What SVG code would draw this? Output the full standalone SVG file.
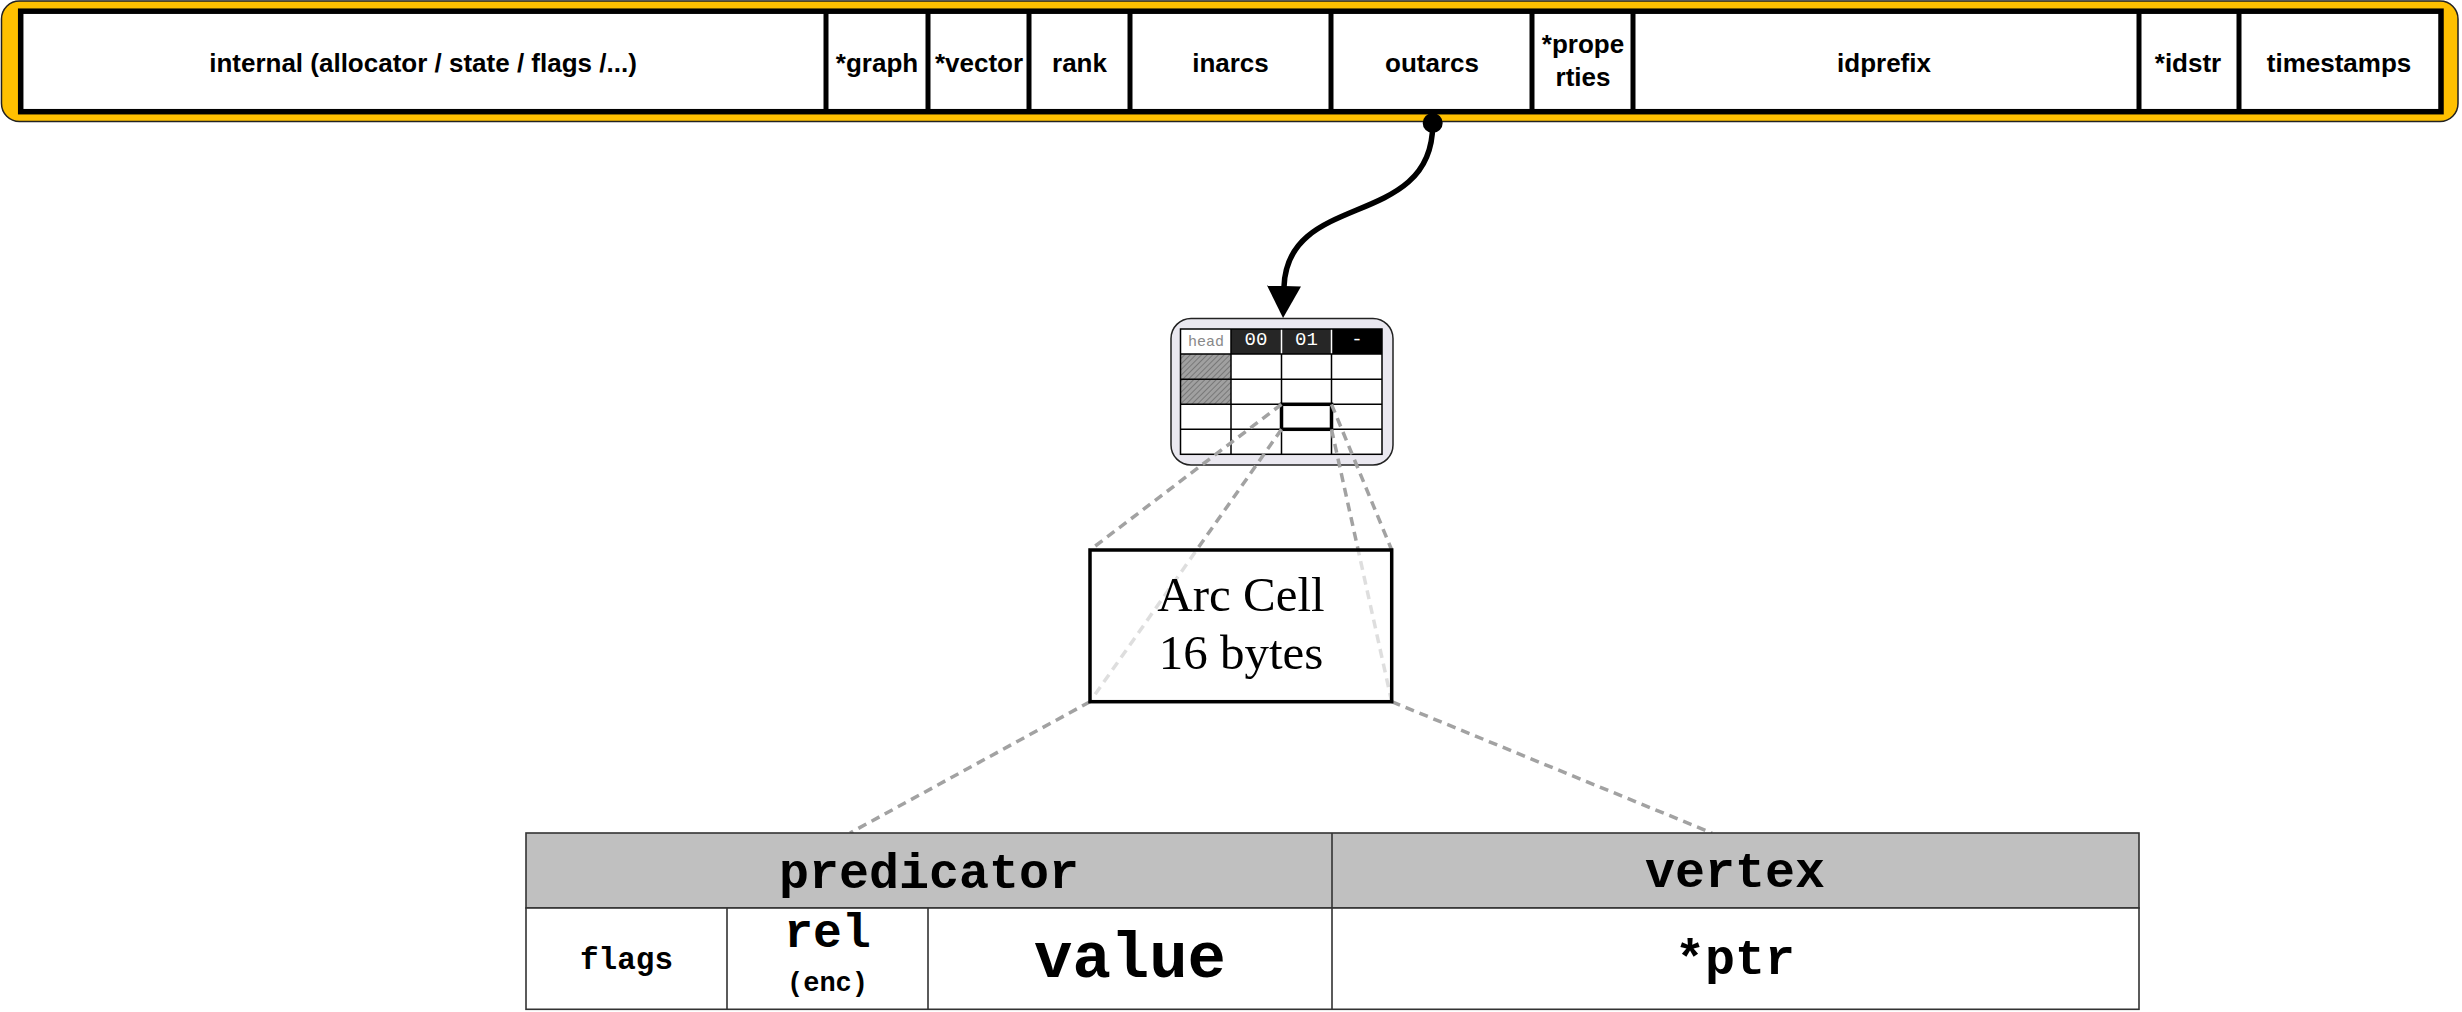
<svg xmlns="http://www.w3.org/2000/svg" width="2462" height="1012" viewBox="0 0 2462 1012">
<style>
.bartxt{font-family:"Liberation Sans",Arial,sans-serif;font-weight:bold;font-size:26px;text-anchor:middle;fill:#000}
.div{stroke:#000;stroke-width:5}
.mono{font-family:"Liberation Mono","Courier New",monospace;font-weight:bold;text-anchor:middle;fill:#000}
.gl{stroke:#000;stroke-width:1.5;fill:none}
.dash{stroke:#a2a2a2;stroke-width:3.5;stroke-dasharray:9 6;fill:none}
.tbl{stroke:#333;stroke-width:1.6}
.hdr{fill:#fff;font-family:"Liberation Mono","Courier New",monospace;font-size:19px;text-anchor:middle}
</style>
<defs>
<pattern id="hatch" width="4" height="4" patternUnits="userSpaceOnUse" patternTransform="rotate(45)">
<rect width="4" height="4" fill="#a0a0a0"/>
<line x1="0" y1="0" x2="0" y2="4" stroke="#6e6e6e" stroke-width="1.6"/>
</pattern>
<marker id="arrow" viewBox="0 0 32 34" refX="1" refY="17" markerWidth="32" markerHeight="34" markerUnits="userSpaceOnUse" orient="auto">
<path d="M0,0 L32,17 L0,34 z" fill="#000"/>
</marker>
</defs>
<rect width="2462" height="1012" fill="#fff"/>

<g id="struct-bar">
<rect x="1.5" y="1" width="2456.5" height="120.5" rx="18" fill="#FFC000" stroke="#222" stroke-width="1.5"/>
<rect x="20.7" y="11.2" width="2420.3" height="100.5" fill="#fff" stroke="#000" stroke-width="5.5"/>
<g id="cell-internal"><text class="bartxt" x="423" y="72">internal (allocator / state / flags /...)</text></g>
<g id="cell-graph"><line class="div" x1="826" y1="11" x2="826" y2="112"/><text class="bartxt" x="877" y="72">*graph</text></g>
<g id="cell-vector"><line class="div" x1="928" y1="11" x2="928" y2="112"/><text class="bartxt" x="979" y="72">*vector</text></g>
<g id="cell-rank"><line class="div" x1="1029" y1="11" x2="1029" y2="112"/><text class="bartxt" x="1079.5" y="72">rank</text></g>
<g id="cell-inarcs"><line class="div" x1="1130" y1="11" x2="1130" y2="112"/><text class="bartxt" x="1230.5" y="72">inarcs</text></g>
<g id="cell-outarcs"><line class="div" x1="1331" y1="11" x2="1331" y2="112"/><text class="bartxt" x="1432" y="72">outarcs</text></g>
<g id="cell-properties"><line class="div" x1="1532" y1="11" x2="1532" y2="112"/><text class="bartxt" x="1583" y="53">*prope</text><text class="bartxt" x="1583" y="86">rties</text></g>
<g id="cell-idprefix"><line class="div" x1="1633" y1="11" x2="1633" y2="112"/><text class="bartxt" x="1884" y="72">idprefix</text></g>
<g id="cell-idstr"><line class="div" x1="2139" y1="11" x2="2139" y2="112"/><text class="bartxt" x="2188" y="72">*idstr</text></g>
<g id="cell-timestamps"><line class="div" x1="2239" y1="11" x2="2239" y2="112"/><text class="bartxt" x="2339" y="72">timestamps</text></g>
</g>

<g id="arc-array">
<rect x="1171" y="318.5" width="222" height="146.5" rx="20" fill="#EAE8F0" stroke="#222" stroke-width="1.5"/>
<rect x="1180.5" y="329" width="201.5" height="125.3" fill="#fff"/>
<rect x="1231" y="329" width="50.5" height="25" fill="#262626"/>
<rect x="1281.5" y="329" width="50" height="25" fill="#262626"/>
<rect x="1331.5" y="329" width="50.5" height="25" fill="#000"/>
<line x1="1281.5" y1="329" x2="1281.5" y2="354" stroke="#fff" stroke-width="1.5"/>
<line x1="1331.5" y1="329" x2="1331.5" y2="354" stroke="#fff" stroke-width="1.5"/>
<rect x="1180.5" y="354" width="50.5" height="50.3" fill="url(#hatch)"/>
<rect class="gl" x="1180.5" y="329" width="201.5" height="125.3"/>
<path class="gl" d="M1180.5,354H1382M1180.5,379.3H1382M1180.5,404.3H1382M1180.5,429.3H1382M1231,329V454.3M1281.5,354V454.3M1331.5,354V454.3"/>
<text x="1206" y="345.5" font-family="'Liberation Mono','Courier New',monospace" font-size="15" fill="#888" text-anchor="middle">head</text>
<text class="hdr" x="1256" y="345">00</text>
<text class="hdr" x="1306.5" y="345">01</text>
<text class="hdr" x="1357" y="345">-</text>
<rect x="1281.5" y="404.3" width="50" height="25" fill="none" stroke="#000" stroke-width="3.5"/>
</g>

<g id="connectors">
<path d="M1432.7,125 C1432,230 1287,190 1284,287" fill="none" stroke="#000" stroke-width="5.5" marker-end="url(#arrow)"/>
<line class="dash" x1="1281.5" y1="404.3" x2="1090" y2="550"/>
<line class="dash" x1="1281.5" y1="429.3" x2="1090" y2="701.7"/>
<line class="dash" x1="1331.5" y1="404.3" x2="1391.7" y2="550"/>
<line class="dash" x1="1331.5" y1="429.3" x2="1391.7" y2="701.7"/>
<line class="dash" x1="1090" y1="701.7" x2="850" y2="833"/>
<line class="dash" x1="1391.7" y1="701.7" x2="1712" y2="833"/>
<circle cx="1432.7" cy="123" r="10" fill="#000"/>
</g>

<g id="arc-cell">
<rect x="1090" y="550" width="301.7" height="151.7" fill="#fff" fill-opacity="0.65" stroke="#000" stroke-width="3.5"/>
<text x="1241" y="611" font-family="'Liberation Serif','Times New Roman',serif" font-size="49" text-anchor="middle">Arc Cell</text>
<text x="1241" y="669" font-family="'Liberation Serif','Times New Roman',serif" font-size="49" text-anchor="middle">16 bytes</text>
</g>

<g id="cell-layout">
<rect class="tbl" x="526" y="833" width="1613" height="75" fill="#C0C0C0"/>
<rect class="tbl" x="526" y="908" width="1613" height="101.3" fill="#fff"/>
<path class="tbl" d="M1332,833V1009.3M727,908V1009.3M928,908V1009.3"/>
<text class="mono" x="929" y="888" font-size="50">predicator</text>
<text class="mono" x="1735" y="887" font-size="50">vertex</text>
<text class="mono" x="626.5" y="969" font-size="31">flags</text>
<text class="mono" x="827.5" y="947" font-size="48">rel</text>
<text class="mono" x="827.5" y="991" font-size="27">(enc)</text>
<text class="mono" x="1130" y="977" font-size="64">value</text>
<text class="mono" x="1735" y="974" font-size="50">*ptr</text>
</g>
</svg>
